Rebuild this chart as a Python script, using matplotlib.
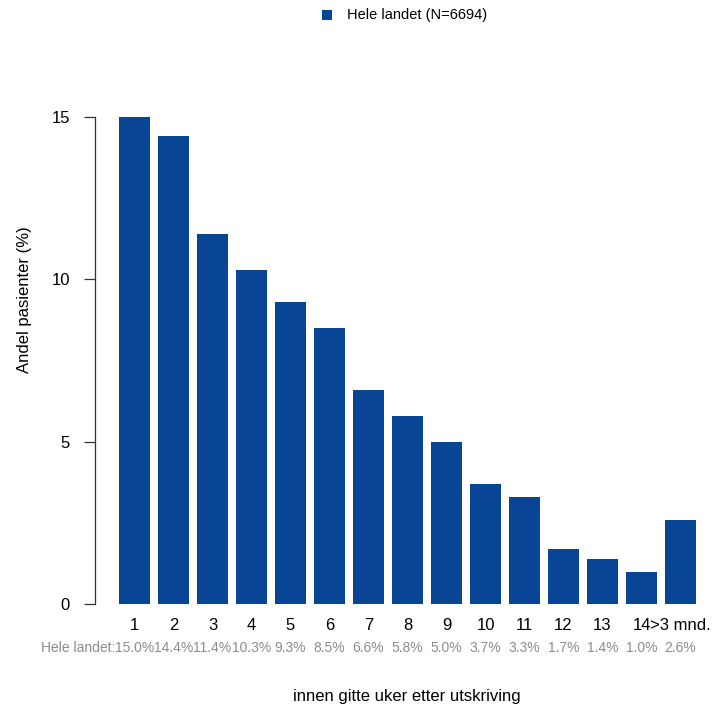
import numpy as np
import matplotlib
matplotlib.use("Agg")
import matplotlib.pyplot as plt
import matplotlib.transforms as mtransforms

# Data
kategorier = ["1", "2", "3", "4", "5", "6", "7", "8", "9", "10", "11", "12", "13", "14", ">3 mnd."]
andel = [15.0, 14.4, 11.4, 10.3, 9.3, 8.5, 6.6, 5.8, 5.0, 3.7, 3.3, 1.7, 1.4, 1.0, 2.6]
serie_navn = "Hele landet"
N = 6694

plt.rcParams["font.family"] = ["Liberation Sans", "DejaVu Sans"]
farge = "#084594"

W = H = 713
fig = plt.figure(figsize=(7.13, 7.13), dpi=100)

def fy(px):
    return 1 - px / H

# aksene: x fra 95 til 705 px, y fra 604 (0) til 90 px
ax = fig.add_axes([95 / W, fy(604), 610 / W, (604 - 90) / H])
x = np.arange(len(andel))
ax.bar(x, andel, width=0.8, color=farge, edgecolor="none")
px_per_unit = 39.0
ax.set_xlim(-(134.5 - 95) / px_per_unit, -(134.5 - 95) / px_per_unit + 610 / px_per_unit)
ax.set_ylim(0, (604 - 90) / 32.47)

for s in ["top", "right", "bottom"]:
    ax.spines[s].set_visible(False)
ax.spines["left"].set_bounds(0, 15)
ax.spines["left"].set_color("#333333")
ax.spines["left"].set_linewidth(0.9)
ax.set_yticks([0, 5, 10, 15])
ax.set_yticklabels(["0", "5", "10", "15"], fontsize=12)
ax.tick_params(axis="y", length=8, width=0.9, color="#333333", pad=10)
ax.set_xticks([])

trans = mtransforms.blended_transform_factory(ax.transData, fig.transFigure)
for i, lab in enumerate(kategorier):
    ax.text(i, fy(626), lab, transform=trans, ha="center", va="center", fontsize=12)
    ax.text(i, fy(648), f"{andel[i]:.1f}%", transform=trans, ha="center", va="center",
            fontsize=10, color="#8c8c8c")
ax.text(-0.5, fy(648), serie_navn + ":", transform=trans, ha="right", va="center",
        fontsize=10, color="#8c8c8c")

fig.text(25 / W, fy(300), "Andel pasienter (%)", rotation=90, ha="center", va="center", fontsize=12)
fig.text(407 / W, fy(697), "innen gitte uker etter utskriving", ha="center", va="center", fontsize=12)

# forklaring
fig.patches.append(plt.Rectangle((322 / W, fy(20)), 10 / W, 10 / H, transform=fig.transFigure,
                                 facecolor=farge, edgecolor="none"))
fig.text(347 / W, fy(15), f"{serie_navn} (N={N})", ha="left", va="center", fontsize=10.5)

fig.savefig("out.png", dpi=100)
plt.close(fig)
